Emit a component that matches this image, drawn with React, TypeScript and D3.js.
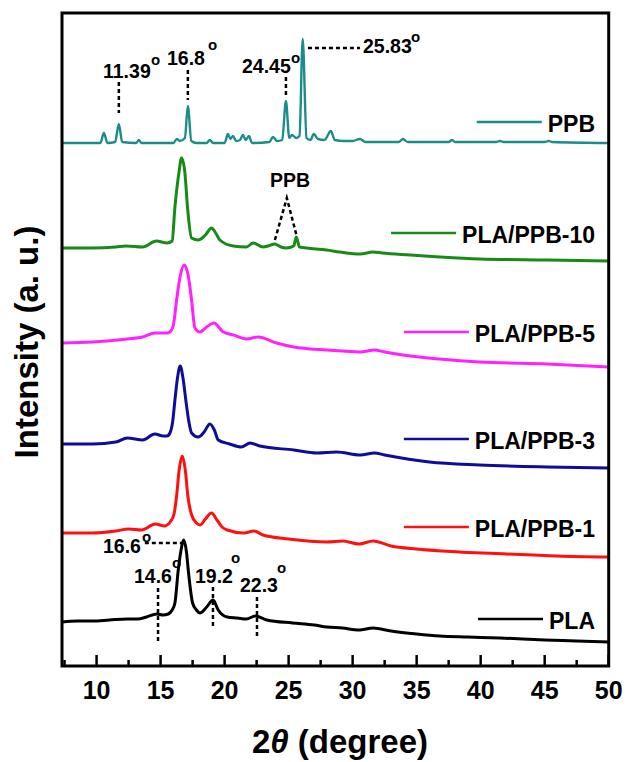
import React from "react";
import * as d3 from "d3";

type Pt = [number, number];

const W = 627;
const H = 762;
const FRAME = { left: 62, right: 608.7, top: 13, bottom: 666 };

const xDomain: [number, number] = [7.3, 50];
const yDomain: [number, number] = [0, 653];
const xMajorTicks = [10, 15, 20, 25, 30, 35, 40, 45, 50];
const xMinorTicks = [7.5, 12.5, 17.5, 22.5, 27.5, 32.5, 37.5, 42.5, 47.5];

const seriesNames = ["PPB", "PLA/PPB-10", "PLA/PPB-5", "PLA/PPB-3", "PLA/PPB-1", "PLA"];
const seriesColors = ["#1b8c8a", "#168c16", "#ff22ff", "#0d0d99", "#ff1010", "#000000"];

const PPB: Pt[] = [
  [7.3, 523], [10.3, 523], [10.57, 533], [10.85, 523], [11.45, 524], [11.74, 542], [12.0, 524],
  [13.1, 523], [13.3, 526], [13.5, 523], [16.0, 523], [16.27, 527], [16.5, 525], [16.9, 528],
  [17.13, 560], [17.4, 525], [17.8, 523], [18.6, 523], [18.85, 526], [19.1, 523], [20.0, 523],
  [20.26, 532], [20.45, 527], [20.65, 530], [20.9, 525], [21.2, 526], [21.43, 531], [21.65, 526],
  [21.9, 530], [22.15, 523], [23.5, 524], [23.78, 529], [24.1, 525], [24.5, 526], [24.79, 565],
  [25.05, 528], [25.26, 531], [25.6, 528], [25.85, 530], [26.1, 627], [26.4, 528], [26.7, 526],
  [26.97, 532], [27.3, 527], [27.8, 526], [28.3, 535], [28.6, 526], [29.3, 525], [30.0, 525],
  [30.57, 527], [31.0, 524], [33.6, 524], [33.93, 527], [34.3, 524], [37.5, 524], [37.76, 526],
  [38.0, 524], [41.2, 524], [41.5, 525], [41.8, 524], [45.0, 524], [45.3, 525], [45.6, 524], [50, 523],
];

const PLA_PPB_10: Pt[] = [
  [7.3, 418], [9.7, 418], [11.5, 419], [12.3, 420], [13.6, 419], [14.67, 425], [15.5, 423],
  [15.9, 425], [16.12, 459], [16.43, 493], [16.64, 508], [16.9, 493], [17.1, 459], [17.42, 428],
  [17.94, 426], [18.5, 431], [18.98, 438], [19.3, 433], [19.63, 426], [20.67, 420], [21.7, 419],
  [22.23, 423], [23.0, 419], [23.4, 420], [23.9, 422], [24.4, 419], [24.8, 418], [25.4, 420],
  [25.6, 429], [25.85, 419], [27.97, 416], [29.0, 414], [30.6, 412], [31.6, 414], [32.3, 413],
  [34.5, 411], [36.8, 409], [39.9, 407], [45.2, 406], [50, 405],
];

const PLA_PPB_5: Pt[] = [
  [7.3, 323], [9.7, 324], [12.4, 327], [13.6, 329], [14.55, 333], [15.5, 333], [15.73, 334],
  [16.0, 341], [16.25, 366], [16.55, 391], [16.85, 401], [17.15, 391], [17.42, 366], [17.68, 338],
  [18.07, 334], [18.6, 339], [19.16, 343], [19.9, 334], [20.7, 331], [21.7, 327], [22.6, 329],
  [24.06, 323], [25.4, 319], [28.0, 316], [30.6, 314], [31.7, 316], [32.5, 314], [34.5, 310],
  [36.8, 307], [39.9, 304], [45.2, 302], [50, 299],
];

const PLA_PPB_3: Pt[] = [
  [7.3, 222], [9.7, 222], [11.5, 224], [12.4, 228], [13.6, 226], [14.55, 232], [15.2, 230],
  [15.5, 230], [15.73, 233], [15.95, 245], [16.12, 266], [16.32, 288], [16.53, 300], [16.75, 288],
  [16.97, 266], [17.2, 245], [17.42, 233], [17.94, 229], [18.4, 234], [18.85, 242], [19.2, 236],
  [19.5, 226], [20.4, 222], [21.3, 219], [22.0, 223], [22.75, 220], [25.4, 216], [27.2, 213],
  [28.75, 214], [30.6, 211], [31.7, 213], [32.5, 211], [36.0, 204], [39.9, 201], [45.2, 199], [50, 198],
];

const PLA_PPB_1: Pt[] = [
  [7.3, 133], [9.7, 133], [11.5, 135], [12.5, 137], [13.5, 136], [14.6, 142], [15.3, 140],
  [15.8, 145], [16.05, 152], [16.25, 170], [16.45, 196], [16.69, 210], [16.93, 196], [17.13, 170],
  [17.4, 152], [17.8, 143], [18.1, 141], [18.5, 147], [18.98, 153], [19.4, 146], [19.8, 139],
  [20.2, 136], [21.5, 133], [22.3, 135], [23.0, 131], [25.0, 127], [28.0, 124], [29.2, 125],
  [30.5, 122], [31.6, 125], [33.0, 120], [35, 117], [37.0, 115], [42.0, 112], [46, 110], [50, 109],
];

const PLA: Pt[] = [
  [7.3, 44], [8.5, 45], [9.7, 45], [11, 46], [12.4, 47], [13.2, 47], [13.9, 49], [14.7, 52],
  [15.2, 51], [15.6, 52], [15.9, 56], [16.12, 63], [16.38, 96], [16.56, 113], [16.82, 126],
  [17.03, 113], [17.16, 96], [17.5, 63], [17.8, 56], [18.07, 53], [18.6, 59], [19.1, 66],
  [19.5, 56], [20.2, 49], [21.0, 48], [21.7, 47], [22.4, 50], [23.3, 46], [25.3, 43], [27.0, 41],
  [28.0, 39], [29.2, 38], [30.5, 36], [31.6, 38], [33, 35], [35, 32], [36.8, 30], [39, 29],
  [41.5, 28], [45, 26], [47.5, 25], [50, 24],
];

const seriesData: Pt[][] = [PPB, PLA_PPB_10, PLA_PPB_5, PLA_PPB_3, PLA_PPB_1, PLA];

// legend layout (line y in px)
const legendY = [122, 233, 332, 439, 527, 619];

// peak annotations: label, dashed guide in data coords
const annoLabels = ["11.39", "16.8", "24.45", "25.83", "16.6", "14.6", "19.2", "22.3"];
const annoGuides: [Pt, Pt][] = [
  [[11.74, 584], [11.74, 553]],
  [[17.13, 596], [17.13, 566]],
  [[24.79, 589], [24.79, 569]],
  [[26.51, 618], [30.57, 618]],
  [[13.77, 123], [16.74, 123]],
  [[14.8, 78], [14.8, 24]],
  [[19.09, 79], [19.09, 38]],
  [[22.53, 69], [22.53, 28]],
];
// text layout: [x start, baseline, degree x, degree baseline]
const annoText: [number, number, number, number][] = [
  [103, 78, 151, 65],
  [167, 65, 208, 50],
  [242, 73, 291, 63],
  [363, 53, 411, 42],
  [103, 553, 142, 542],
  [134, 583, 172, 568],
  [195, 583, 231, 563],
  [240, 592, 277, 573],
];
const ppbMarkLabel = "PPB";
const ppbMarkGuide: Pt[] = [[23.93, 426], [24.86, 468], [25.65, 429]];

const FONT = "'Liberation Sans', Arial, Helvetica, sans-serif";

function measure(text: string, font: string): number {
  try {
    const c = document.createElement("canvas").getContext("2d");
    if (!c) return text.length * 12;
    c.font = font;
    return c.measureText(text).width;
  } catch {
    return text.length * 12;
  }
}

export default function App() {
  const x = d3.scaleLinear().domain(xDomain).range([FRAME.left, FRAME.right]);
  const y = d3.scaleLinear().domain(yDomain).range([FRAME.bottom, FRAME.top]);
  const line = d3
    .line<Pt>()
    .x((d) => x(d[0]))
    .y((d) => y(d[1]))
    .curve(d3.curveMonotoneX);
  const straight = d3
    .line<Pt>()
    .x((d) => x(d[0]))
    .y((d) => y(d[1]));

  const legendFont = `bold 23px ${FONT}`;
  const legendRight = 595;

  return (
    <svg
      width={W}
      height={H}
      viewBox={`0 0 ${W} ${H}`}
      style={{ position: "absolute", left: 0, top: 0, background: "#fff" }}
      fontFamily={FONT}
    >
      <rect width={W} height={H} fill="#fff" />
      {/* curves */}
      {seriesData.map((s, i) => (
        <path
          key={seriesNames[i]}
          d={line(s) || ""}
          fill="none"
          stroke={seriesColors[i]}
          strokeWidth={i === 0 ? 2.4 : 3}
          strokeLinejoin="round"
        />
      ))}

      {/* frame */}
      <rect
        x={FRAME.left}
        y={FRAME.top}
        width={FRAME.right - FRAME.left}
        height={FRAME.bottom - FRAME.top}
        fill="none"
        stroke="#000"
        strokeWidth={3}
      />

      {/* ticks */}
      {xMajorTicks.map((t) => (
        <line key={"M" + t} x1={x(t)} x2={x(t)} y1={FRAME.bottom} y2={FRAME.bottom - 11} stroke="#000" strokeWidth={2.5} />
      ))}
      {xMinorTicks.map((t) => (
        <line key={"m" + t} x1={x(t)} x2={x(t)} y1={FRAME.bottom} y2={FRAME.bottom - 6} stroke="#000" strokeWidth={2.5} />
      ))}
      {xMajorTicks.map((t) => (
        <text key={"L" + t} x={x(t)} y={699} textAnchor="middle" fontSize={25} fontWeight="bold">
          {t}
        </text>
      ))}

      {/* axis titles */}
      <text x={340} y={753} textAnchor="middle" fontSize={33} fontWeight="bold">
        2<tspan fontStyle="italic">θ</tspan> (degree)
      </text>
      <text transform="translate(38,342) rotate(-90)" textAnchor="middle" fontSize={33} fontWeight="bold">
        Intensity (a. u.)
      </text>

      {/* legend */}
      {seriesNames.map((n, i) => {
        const w = measure(n, legendFont);
        const start = legendRight - w;
        return (
          <g key={"lg" + n}>
            <line x1={start - 71} x2={start - 6} y1={legendY[i]} y2={legendY[i]} stroke={seriesColors[i]} strokeWidth={2.5} />
            <text x={legendRight} y={legendY[i] + 9.5} textAnchor="end" fontSize={23} fontWeight="bold">
              {n}
            </text>
          </g>
        );
      })}

      {/* annotations */}
      {annoLabels.map((lab, i) => (
        <g key={"an" + i}>
          <path d={straight(annoGuides[i]) || ""} stroke="#000" strokeWidth={2.5} strokeDasharray="4 3" fill="none" />
          <text x={annoText[i][0]} y={annoText[i][1]} fontSize={19.5} fontWeight="bold">
            {lab}
          </text>
          <text x={annoText[i][2]} y={annoText[i][3]} fontSize={15} fontWeight="bold">
            o
          </text>
        </g>
      ))}
      <path d={straight(ppbMarkGuide) || ""} stroke="#000" strokeWidth={2.5} strokeDasharray="4 3" fill="none" />
      <text x={270} y={187} fontSize={19.5} fontWeight="bold">
        {ppbMarkLabel}
      </text>
    </svg>
  );
}
